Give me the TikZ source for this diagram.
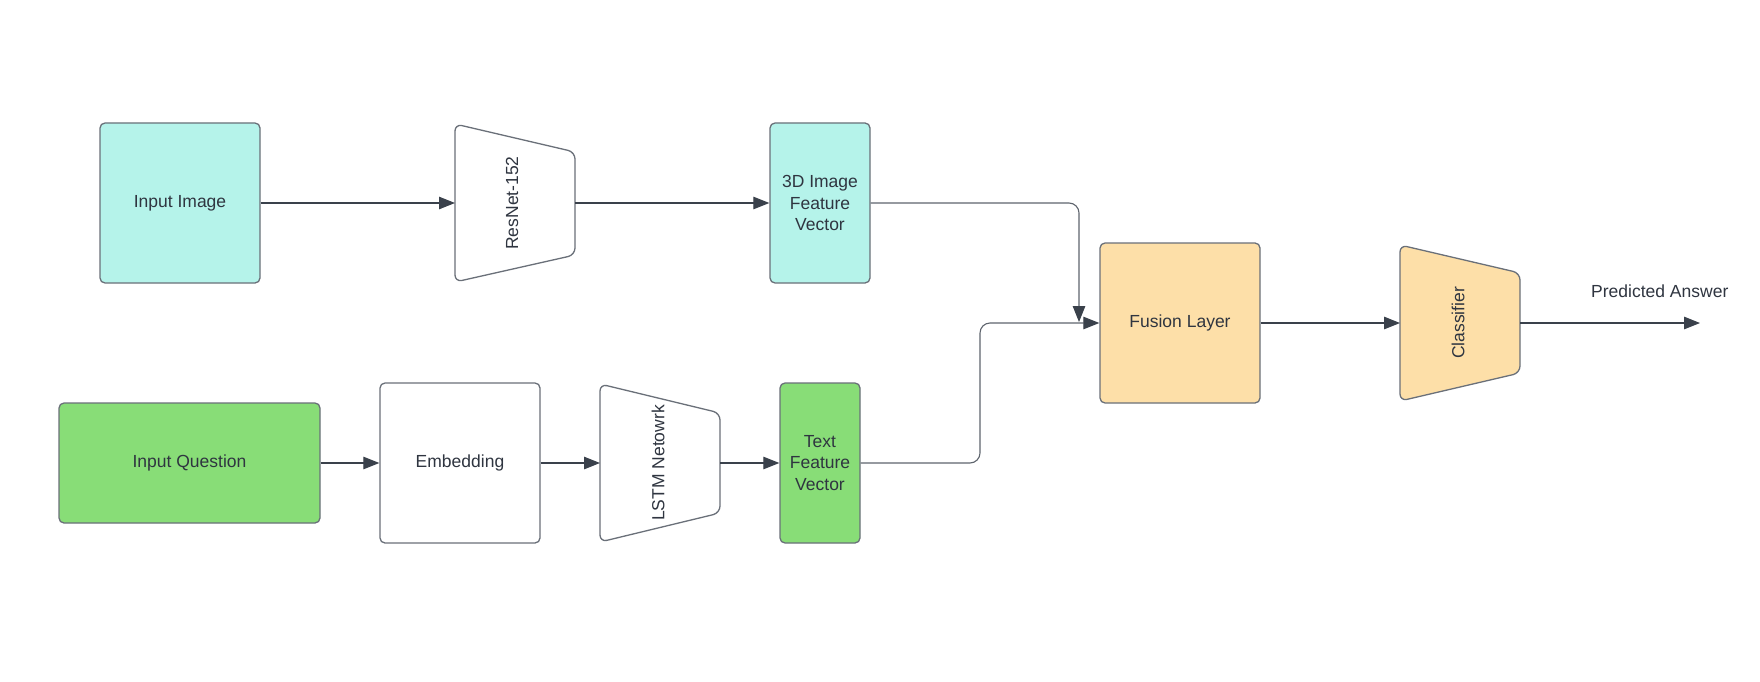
\documentclass[tikz,border=0pt]{standalone}
\usepackage{fontspec}
\setmainfont{Liberation Sans}
\usetikzlibrary{arrows.meta}
\definecolor{cyanf}{HTML}{B5F3EA}
\definecolor{greenf}{HTML}{88DD77}
\definecolor{orangef}{HTML}{FDDFA8}
\definecolor{strk}{HTML}{6A7079}
\definecolor{ink}{HTML}{2F3540}
\definecolor{arr}{HTML}{3A414B}
\definecolor{lline}{HTML}{5F656E}
\begin{document}
\begin{tikzpicture}[x=1pt,y=-1pt,
  txt/.style={text=ink, font=\fontsize{17.5}{21.5}\selectfont},
  box/.style={txt, draw=strk, line width=1.3pt, rounded corners=5pt, inner sep=0pt, align=center},
  frame/.style={inner sep=0pt, outer sep=0pt},
  trap/.style={draw=strk, line width=1.3pt, rounded corners=7pt},
  lbl/.style={txt, rotate=90, inner sep=0pt},
  conn/.style={draw=arr, line width=1.1pt, rounded corners=10pt, -{Triangle[length=16pt,width=12.5pt,color=arr]}},
  longconn/.style={conn, draw=lline},
]
\useasboundingbox[fill=white] (0,0) rectangle (1760,682);

% top row
\node[box, fill=cyanf, minimum width=160pt, minimum height=160pt] (img) at (180,203) {Input Image};
\node[frame, minimum width=120pt, minimum height=158pt] (resnet) at (515,203) {};
\draw[trap] (resnet.north west) -- ([yshift=-28pt]resnet.north east) -- ([yshift=27pt]resnet.south east) -- (resnet.south west) -- cycle;
\node[lbl] (resnetT) at (512,203) {ResNet-152};
\node[box, fill=cyanf, minimum width=100pt, minimum height=160pt] (feat) at (820,203) {3D Image\\Feature\\Vector};

% bottom row
\node[box, fill=greenf, minimum width=261pt, minimum height=120pt] (q) at (189.5,463) {Input Question};
\node[box, minimum width=160pt, minimum height=160pt] (emb) at (460,463) {Embedding};
\node[frame, minimum width=120pt, minimum height=158pt] (lstm) at (660,463) {};
\draw[trap] (lstm.north west) -- ([yshift=-29pt]lstm.north east) -- ([yshift=29pt]lstm.south east) -- (lstm.south west) -- cycle;
\node[lbl] (lstmT) at (658,463) {LSTM Netowrk};
\node[box, fill=greenf, minimum width=80pt, minimum height=160pt] (tfeat) at (820,463) {Text\\Feature\\Vector};

% right part
\node[box, fill=orangef, minimum width=160pt, minimum height=160pt] (fusion) at (1180,323) {Fusion Layer};
\node[frame, minimum width=120pt, minimum height=156pt] (cls) at (1460,323) {};
\draw[trap, fill=orangef] (cls.north west) -- ([yshift=-28pt]cls.north east) -- ([yshift=28pt]cls.south east) -- (cls.south west) -- cycle;
\node[lbl] (clsT) at (1458,323) {Classifier};
\node[txt, anchor=west, inner sep=0pt] (ans) at (1591,291) {Predicted Answer};
\coordinate (out) at (1700,323);

% connectors
\draw[conn] (img.east) -- (resnet.west);
\draw[conn] (resnet.east) -- (feat.west);
\draw[conn] (q.east) -- (emb.west);
\draw[conn] (emb.east) -- (lstm.west);
\draw[conn] (lstm.east) -- (tfeat.west);
\draw[longconn] (feat.east) -- (1079,203) -- (1079,322);
\draw[longconn] (tfeat.east) -- (980,463) -- (980,323) -- (fusion.west);
\draw[conn] (fusion.east) -- (cls.west);
\draw[conn] (cls.east) -- (out);
\end{tikzpicture}
\end{document}
